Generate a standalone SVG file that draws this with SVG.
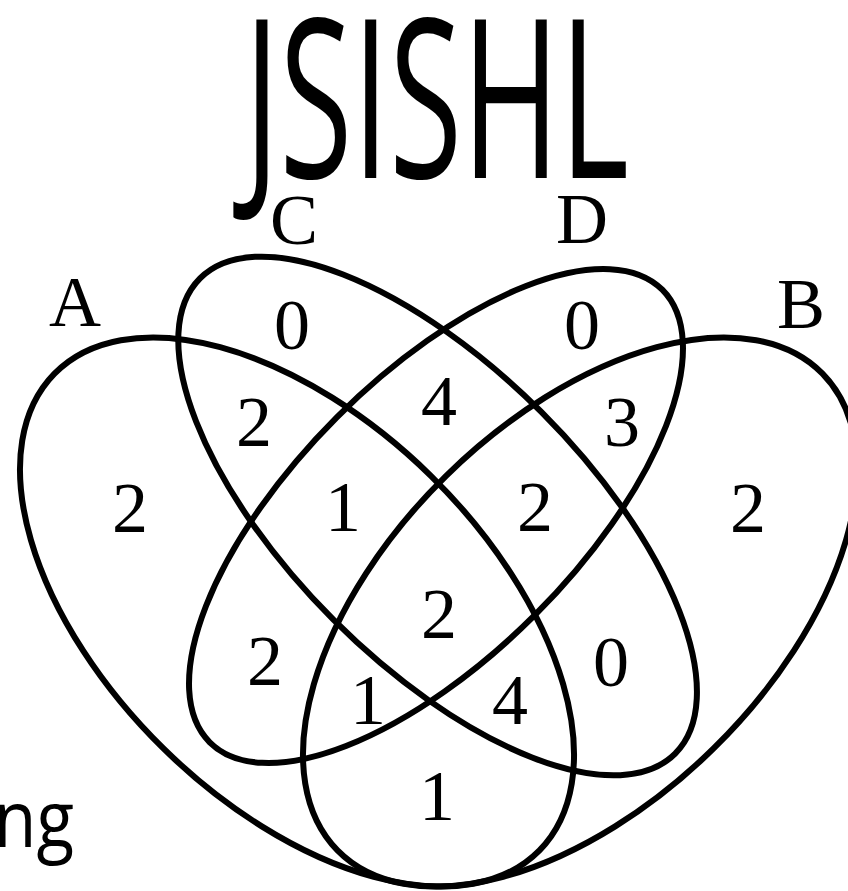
<svg xmlns="http://www.w3.org/2000/svg" width="848" height="891" viewBox="0 0 848 891">
<style>
.set{fill:none;stroke:#000;stroke-width:6}
.lbl{font-family:"Liberation Serif","Times New Roman",serif;font-size:72px;fill:#000;text-anchor:middle}
.num{font-family:"Liberation Serif","Times New Roman",serif;font-size:72px;fill:#000;text-anchor:middle}
.sans{font-family:"Open Sans","Lato",sans-serif;fill:#000}
</style>
<rect width="848" height="891" fill="#fff"/>
<text id="title" class="sans" x="244" y="178" font-size="222" textLength="385" lengthAdjust="spacingAndGlyphs">JSISHL</text>
<text id="cut-label" class="sans" x="-6" y="847" font-size="78" textLength="80" lengthAdjust="spacingAndGlyphs">ng</text>
<g id="connectors">
<g id="setA"><ellipse class="set" cx="297" cy="612" rx="340" ry="191" transform="rotate(44.5 297 612)"/></g>
<g id="setB"><ellipse class="set" cx="580" cy="612" rx="340" ry="191" transform="rotate(-44.5 580 612)"/></g>
<g id="setC"><ellipse class="set" cx="437.6" cy="516" rx="336" ry="147" transform="rotate(45 437.6 516)"/></g>
<g id="setD"><ellipse class="set" cx="436" cy="516" rx="320" ry="140" transform="rotate(-45 436 516)"/></g>
</g>
<g id="labels">
<text class="lbl" x="75" y="326">A</text>
<text class="lbl" x="294" y="244">C</text>
<text class="lbl" x="582" y="243">D</text>
<text class="lbl" x="801" y="328">B</text>
</g>
<g id="counts">
<text class="num" x="292" y="349">0</text>
<text class="num" x="582" y="349">0</text>
<text class="num" x="130" y="532">2</text>
<text class="num" x="254" y="446">2</text>
<text class="num" x="439" y="425">4</text>
<text class="num" x="622" y="446">3</text>
<text class="num" x="343" y="531">1</text>
<text class="num" x="535" y="531">2</text>
<text class="num" x="748" y="532">2</text>
<text class="num" x="439" y="638">2</text>
<text class="num" x="265" y="685">2</text>
<text class="num" x="368" y="724">1</text>
<text class="num" x="510" y="724">4</text>
<text class="num" x="611" y="686">0</text>
<text class="num" x="437" y="820">1</text>
</g>
</svg>
